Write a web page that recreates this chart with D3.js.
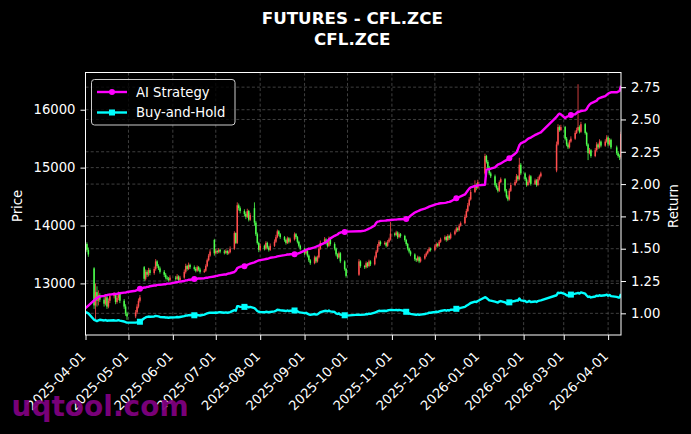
<!DOCTYPE html>
<html><head><meta charset="utf-8">
<script src="https://cdn.jsdelivr.net/npm/d3@7/dist/d3.min.js"></script>
<style>html,body{margin:0;padding:0;background:#000;}svg{display:block;}</style>
</head><body>
<svg id="chart" width="691" height="434"></svg>
<script>
// ---------- data ----------
const titleLines = ["FUTURES - CFL.ZCE", "CFL.ZCE"];
const startDate = "2025-04-01", endDate = "2026-04-10";
const holidays = ["2025-04-04","2025-05-01","2025-05-02","2025-05-05","2025-06-02",
  "2025-10-01","2025-10-02","2025-10-03","2025-10-06","2025-10-07","2025-10-08",
  "2026-01-01","2026-01-02","2026-02-16","2026-02-17","2026-02-18","2026-02-19","2026-02-20","2026-02-23","2026-04-06"];
const monthTicks = ["2025-04-01","2025-05-01","2025-06-01","2025-07-01","2025-08-01","2025-09-01","2025-10-01",
  "2025-11-01","2025-12-01","2026-01-01","2026-02-01","2026-03-01","2026-04-01"];
const priceTicks = [13000,14000,15000,16000];
const returnTicks = [1.00,1.25,1.50,1.75,2.00,2.25,2.50,2.75];
const seriesNames = ["AI Strategy","Buy-and-Hold"];

const opens = [13560,13680,13580,
13260,12620,12850,12700,12800,
12720,12650,12760,12600,12700,
12780,12800,12680,12750,12820,
12700,12600,12480,
12430,12500,12600,12700,
13280,13080,13200,13150,13230,
13180,13250,13380,13300,13260,
13200,13150,13100,13080,13060,
13100,13080,13120,13060,
13100,13200,13300,13250,13320,
13280,13250,13220,13280,13240,
13200,13220,13300,13400,13480,
13750,13520,13560,13540,13580,
13550,13530,13560,13520,13540,
13600,13870,13700,14350,14300,
14250,14200,14150,14250,14100,
14300,14050,13850,13700,
13580,13650,13600,13700,13620,13580,
13650,13720,13800,13900,
13850,13800,13750,13700,13780,
13720,13760,13850,13800,
13720,13650,13600,13520,
13560,13480,13400,13350,13450,
13380,13450,13600,13700,
13760,13700,13650,13780,
13680,13600,13500,13450,
13520,13380,13250,
13150,13380,
13300,13280,13350,13300,13380,
13330,13450,13550,13650,13720,
13680,13700,13650,13720,
13760,
13860,13840,13880,13800,13850,
13820,13750,13680,13600,13550,
13500,13420,13400,13450,13380,
13430,13480,13520,13560,13600,13580,13640,13680,13650,13720,
13760,13800,13750,13820,13780,
13850,13900,13950,13920,14000,
14040,14150,14250,14350,14450,
14580,14700,14650,
14900,15200,15100,15000,14900,
14850,14700,14650,14600,14750,
14800,14600,14500,14450,14600,
14700,14750,14850,14800,15050,
14900,14800,14700,14750,14850,14720,14780,
14700,14800,14850,
14950,15400,15700,15650,
15700,15500,15400,15350,15450,
15500,15600,15650,15700,15620,
15750,15600,15400,15250,15300,
15200,15300,15400,15350,15450,
15380,15450,15520,15400,15480,
15350,15250,15200,
15180];

const highs = [13720,13710,13620,
13280,13000,12950,12880,12830,
12780,12800,12790,12740,12830,
12850,12830,12790,12860,12840,
12730,12640,12510,
12540,12640,12740,12800,
13300,13240,13230,13270,13260,
13290,13420,13400,13330,13290,
13230,13180,13130,13110,13140,
13130,13160,13140,13130,
13240,13340,13320,13360,13340,
13310,13280,13310,13300,13270,
13250,13330,13430,13510,13590,
13770,13600,13580,13610,13600,
13580,13590,13580,13570,13640,
13900,13880,14400,14380,14330,
14280,14230,14290,14270,14220,
14400,14080,13880,13720,
13690,13670,13730,13720,13650,13690,
13760,13840,13930,13920,
13870,13820,13770,13810,13800,
13790,13880,13870,13820,
13740,13670,13620,13590,
13580,13500,13420,13480,13470,
13480,13630,13740,13800,
13780,13720,13810,13800,
13710,13620,13520,13550,
13540,13400,13270,
13420,13400,
13320,13380,13370,13410,13400,
13480,13580,13680,13750,13740,
13730,13720,13750,13790,
14060,
13880,13910,13900,13880,13870,
13840,13770,13700,13620,13570,
13520,13440,13480,13470,13460,
13510,13550,13590,13630,13620,13670,13710,13700,13750,13790,
13830,13820,13850,13840,13880,
13930,13980,13970,14030,14070,
14190,14290,14390,14490,14620,
14780,14730,14790,
15240,15220,15130,15030,14930,
14880,14730,14680,14780,14830,
14820,14630,14530,14640,14740,
14790,14890,14870,15170,15080,
14920,14830,14780,14880,14870,14810,14800,
14840,14880,14930,
15450,15750,15730,15740,
15720,15530,15430,15480,15540,
15640,15690,16440,15730,15790,
15770,15620,15420,15340,15320,
15340,15440,15420,15490,15470,
15490,15560,15540,15510,15500,
15380,15280,15230,
15620];

const lows = [13500,13540,13460,
12560,12380,12600,12620,12680,
12600,12620,12560,12570,12660,
12740,12640,12650,12710,12660,
12560,12440,12370,
12400,12470,12570,12670,
13040,13050,13110,13120,13140,
13150,13220,13270,13230,13170,
13110,13070,13050,13030,13040,
13050,13060,13030,13040,
13080,13170,13220,13230,13250,
13220,13190,13200,13210,13170,
13180,13200,13280,13380,13460,
13480,13500,13510,13520,13520,
13500,13510,13490,13500,13520,
13580,13680,13680,14260,14210,
14160,14110,14130,14070,14080,
14000,13820,13670,13540,
13560,13570,13580,13590,13550,13560,
13630,13700,13780,13820,
13770,13720,13670,13680,13690,
13700,13740,13770,13690,
13620,13570,13490,13500,
13450,13370,13320,13330,13350,
13360,13430,13580,13680,
13670,13620,13630,13650,
13570,13470,13420,13430,
13350,13220,13100,
13130,13270,
13250,13260,13270,13280,13300,
13310,13430,13530,13630,13650,
13660,13620,13630,13700,
13740,
13810,13820,13770,13780,13790,
13720,13650,13570,13520,13470,
13390,13370,13380,13350,13360,
13410,13460,13500,13540,13550,13560,13620,13620,13630,13700,
13740,13720,13730,13750,13760,
13830,13880,13890,13900,13980,
14020,14130,14230,14330,14430,
14560,14610,14630,
14880,15070,14970,14870,14820,
14670,14620,14570,14580,14730,
14570,14470,14420,14430,14580,
14680,14730,14770,14780,14870,
14770,14670,14680,14730,14690,14700,14670,
14680,14780,14830,
14920,15380,15620,15630,
15470,15370,15320,15330,15430,
15480,15580,15630,15590,15600,
15570,15370,15130,15230,15170,
15180,15280,15320,15330,15350,
15360,15430,15370,15380,15320,
15220,15170,15130,
15150];

const closes = [13680,13580,13500,
12620,12850,12700,12800,12720,
12650,12760,12600,12700,12780,
12800,12680,12750,12820,12700,
12600,12480,12430,
12500,12600,12700,12760,
13080,13200,13150,13230,13180,
13250,13380,13300,13260,13200,
13150,13100,13080,13060,13100,
13080,13120,13060,13100,
13200,13300,13250,13320,13280,
13250,13220,13280,13240,13200,
13220,13300,13400,13480,13550,
13520,13560,13540,13580,13550,
13530,13560,13520,13540,13600,
13870,13700,14350,14300,14250,
14200,14150,14250,14100,14180,
14050,13850,13700,13580,
13650,13600,13700,13620,13580,13650,
13720,13800,13900,13850,
13800,13750,13700,13780,13720,
13760,13850,13800,13720,
13650,13600,13520,13560,
13480,13400,13350,13450,13380,
13450,13600,13700,13760,
13700,13650,13780,13680,
13600,13500,13450,13520,
13380,13250,13130,
13380,13300,
13280,13350,13300,13380,13330,
13450,13550,13650,13720,13680,
13700,13650,13720,13760,
13860,
13840,13880,13800,13850,13820,
13750,13680,13600,13550,13500,
13420,13400,13450,13380,13430,
13480,13520,13560,13600,13580,13640,13680,13650,13720,13760,
13800,13750,13820,13780,13850,
13900,13950,13920,14000,14040,
14150,14250,14350,14450,14580,
14700,14650,14750,
15200,15100,15000,14900,14850,
14700,14650,14600,14750,14800,
14600,14500,14450,14600,14700,
14750,14850,14800,15050,14900,
14800,14700,14750,14850,14720,14780,14700,
14800,14850,14900,
15400,15700,15650,15700,
15500,15400,15350,15450,15500,
15600,15650,15700,15620,15750,
15600,15400,15250,15300,15200,
15300,15400,15350,15450,15380,
15450,15520,15400,15480,15350,
15250,15200,15180,
15580];

const aiStrategy = [1.04,1.05,1.06,
1.10,1.11,1.12,1.125,1.13,
1.135,1.14,1.14,1.145,1.145,
1.15,1.15,1.15,1.155,1.155,
1.16,1.16,1.165,
1.175,1.18,1.185,1.19,
1.20,1.20,1.205,1.205,1.21,
1.215,1.215,1.22,1.22,1.22,
1.225,1.225,1.23,1.23,1.23,
1.24,1.24,1.245,1.245,
1.25,1.255,1.255,1.26,1.26,
1.265,1.265,1.268,1.27,1.27,
1.272,1.275,1.275,1.278,1.28,
1.285,1.29,1.29,1.293,1.296,
1.30,1.30,1.305,1.308,1.31,
1.32,1.33,1.35,1.355,1.36,
1.365,1.37,1.375,1.38,1.385,
1.395,1.40,1.405,1.41,
1.412,1.418,1.42,1.422,1.425,1.43,
1.435,1.437,1.44,1.443,
1.445,1.45,1.452,1.455,1.455,
1.457,1.458,1.46,1.462,
1.465,1.47,1.485,1.49,
1.495,1.50,1.50,1.51,1.515,
1.52,1.525,1.53,1.545,
1.55,1.56,1.57,1.58,
1.60,1.605,1.61,1.62,
1.625,1.63,1.632,
1.635,1.635,
1.64,1.645,1.65,1.655,1.66,
1.68,1.70,1.71,1.712,1.715,
1.717,1.718,1.72,1.72,
1.722,
1.725,1.725,1.727,1.728,1.728,
1.73,1.73,1.735,1.745,1.755,
1.78,1.785,1.79,1.795,1.80,
1.81,1.815,1.82,1.825,1.83,1.84,1.845,1.847,1.85,1.852,
1.855,1.857,1.86,1.862,1.865,
1.885,1.89,1.895,1.90,1.905,
1.92,1.935,1.95,1.965,1.975,
1.985,1.987,1.99,
1.995,2.11,2.115,2.115,2.12,
2.13,2.14,2.15,2.155,2.16,
2.18,2.185,2.19,2.20,2.21,
2.235,2.245,2.27,2.30,2.315,
2.33,2.34,2.35,2.355,2.36,2.38,2.385,
2.39,2.395,2.40,
2.52,2.535,2.545,2.54,
2.51,2.52,2.525,2.53,2.535,
2.54,2.55,2.56,2.56,2.565,
2.57,2.58,2.60,2.615,2.625,
2.64,2.645,2.66,2.665,2.67,
2.68,2.69,2.70,2.705,2.71,
2.71,2.715,2.72,
2.76];

const buyHold = [1.01,1.005,1.00,
0.95,0.945,0.94,0.945,0.95,
0.945,0.948,0.943,0.945,0.945,
0.946,0.944,0.945,0.947,0.944,
0.937,0.932,0.928,
0.928,0.93,0.932,0.935,
0.962,0.968,0.972,0.975,0.974,
0.976,0.98,0.978,0.976,0.972,
0.97,0.968,0.968,0.966,0.968,
0.97,0.972,0.97,0.972,
0.978,0.983,0.982,0.986,0.985,
0.985,0.984,0.987,0.985,0.983,
0.99,0.995,1.0,1.003,1.005,
1.005,1.006,1.005,1.008,1.008,
1.005,1.007,1.005,1.006,1.01,
1.025,1.02,1.055,1.055,1.05,
1.05,1.048,1.052,1.046,1.05,
1.04,1.03,1.018,1.012,
1.01,1.008,1.012,1.01,1.008,1.01,
1.015,1.02,1.028,1.026,
1.024,1.02,1.017,1.022,1.018,
1.02,1.022,1.02,1.016,
1.01,1.007,1.002,1.004,
0.998,0.992,0.988,0.995,0.99,
0.992,1.0,1.01,1.018,
1.02,1.015,1.022,1.015,
1.01,1.0,0.995,1.0,
0.99,0.985,0.982,
0.99,0.988,
0.99,0.995,0.993,0.998,0.996,
1.005,1.01,1.015,1.02,1.018,
1.02,1.018,1.022,1.025,
1.026,
1.025,1.027,1.024,1.026,1.025,
1.018,1.012,1.006,1.0,0.996,
0.99,0.988,0.992,0.988,0.99,
0.995,0.998,1.0,1.005,1.005,1.01,1.012,1.01,1.015,1.018,
1.025,1.02,1.025,1.022,1.028,
1.03,1.035,1.033,1.038,1.042,
1.05,1.058,1.065,1.072,1.08,
1.09,1.087,1.095,
1.125,1.12,1.11,1.10,1.098,
1.09,1.087,1.083,1.092,1.095,
1.085,1.078,1.075,1.085,1.09,
1.095,1.1,1.098,1.115,1.1,
1.095,1.088,1.09,1.096,1.088,1.092,1.088,
1.095,1.098,1.1,
1.14,1.16,1.157,1.16,
1.148,1.14,1.137,1.143,1.145,
1.152,1.155,1.158,1.153,1.162,
1.152,1.138,1.127,1.13,1.123,
1.13,1.137,1.134,1.14,1.136,
1.14,1.145,1.136,1.142,1.133,
1.127,1.123,1.122,
1.15];

// ---------- build ----------
const parse = d3.utcParse("%Y-%m-%d");
const fmt = d3.utcFormat("%Y-%m-%d");
const hol = new Set(holidays);
const dates = d3.utcDay.range(parse(startDate), d3.utcDay.offset(parse(endDate), 1))
  .filter(d => d.getUTCDay() !== 0 && d.getUTCDay() !== 6 && !hol.has(fmt(d)));
const n = Math.min(dates.length, closes.length);
const rows = d3.range(n).map(i => ({d: dates[i], o: opens[i], h: highs[i], l: lows[i], c: closes[i], ai: aiStrategy[i], bh: buyHold[i], i}));

const W = 691, H = 434;
const L = 85.5, R = 621, T = 72.5, B = 335;
const FONT = "DejaVu Sans, Liberation Sans, sans-serif";
const svg = d3.select("#chart");
svg.append("rect").attr("width", W).attr("height", H).attr("fill", "#000");

const x = d3.scaleUtc().domain([parse(startDate), parse(endDate)]).range([L, R]);
const yP = d3.scaleLinear().domain([12109, 16643]).range([B, T]);
const yR = d3.scaleLinear().domain([0.8324, 2.8633]).range([B, T]);

svg.append("clipPath").attr("id", "clip").append("rect")
  .attr("x", L).attr("y", T).attr("width", R - L).attr("height", B - T);

// grid
const grid = svg.append("g").attr("clip-path", "url(#clip)")
  .attr("stroke", "#5a5a5a").attr("stroke-width", 0.7).attr("stroke-dasharray", "3,2.2");
grid.selectAll(".gx").data(monthTicks.map(parse)).join("line")
  .attr("x1", d => x(d)).attr("x2", d => x(d)).attr("y1", T).attr("y2", B);
grid.selectAll(".gp").data(priceTicks).join("line").attr("class", "gp")
  .attr("x1", L).attr("x2", R).attr("y1", d => yP(d)).attr("y2", d => yP(d));
grid.selectAll(".gr").data(returnTicks).join("line").attr("class", "gr")
  .attr("x1", L).attr("x2", R).attr("y1", d => yR(d)).attr("y2", d => yR(d));

// candles
const upC = "#ff4d4d", dnC = "#4dff4d";
const cg = svg.append("g").attr("clip-path", "url(#clip)");
const bw = 1.5;
cg.selectAll(".wick").data(rows).join("line")
  .attr("x1", d => x(d.d)).attr("x2", d => x(d.d))
  .attr("y1", d => yP(d.h)).attr("y2", d => yP(d.l))
  .attr("stroke", d => d.c >= d.o ? upC : dnC).attr("stroke-width", 0.8);
cg.selectAll(".body").data(rows).join("rect")
  .attr("x", d => x(d.d) - bw / 2).attr("width", bw)
  .attr("y", d => yP(Math.max(d.o, d.c)))
  .attr("height", d => Math.max(0.8, Math.abs(yP(d.o) - yP(d.c))))
  .attr("fill", d => d.c >= d.o ? upC : dnC);

// lines
const aiC = "#ff00ff", bhC = "#00ffff";
const lg = svg.append("g").attr("clip-path", "url(#clip)");
const lineBH = d3.line().x(d => x(d.d)).y(d => yR(d.bh));
const lineAI = d3.line().x(d => x(d.d)).y(d => yR(d.ai));
lg.append("path").datum(rows).attr("d", lineBH).attr("fill", "none")
  .attr("stroke", bhC).attr("stroke-width", 2.4).attr("stroke-linejoin", "round");
lg.append("path").datum(rows).attr("d", lineAI).attr("fill", "none")
  .attr("stroke", aiC).attr("stroke-width", 2.4).attr("stroke-linejoin", "round");
const marked = rows.filter(d => (d.i + 1) % 25 === 0);
lg.selectAll(".mb").data(marked).join("rect")
  .attr("x", d => x(d.d) - 3).attr("y", d => yR(d.bh) - 3).attr("width", 6).attr("height", 6).attr("fill", bhC);
lg.selectAll(".ma").data(marked).join("circle")
  .attr("cx", d => x(d.d)).attr("cy", d => yR(d.ai)).attr("r", 3).attr("fill", aiC);

// frame
svg.append("rect").attr("x", L).attr("y", T).attr("width", R - L).attr("height", B - T)
  .attr("fill", "none").attr("stroke", "#fff").attr("stroke-width", 1);

// axes
function styleAxis(g) {
  g.select(".domain").remove();
  g.selectAll("line").attr("stroke", "#fff").attr("stroke-width", 1);
  g.selectAll("text").attr("fill", "#fff").attr("font-family", FONT).attr("font-size", "13.2px");
}
svg.append("g").attr("transform", `translate(${L},0)`)
  .call(d3.axisLeft(yP).tickValues(priceTicks).tickFormat(d3.format("d")).tickSize(5).tickPadding(5))
  .call(styleAxis);
svg.append("g").attr("transform", `translate(${R},0)`)
  .call(d3.axisRight(yR).tickValues(returnTicks).tickFormat(d3.format(".2f")).tickSize(5).tickPadding(5))
  .call(styleAxis);
const xa = svg.append("g").attr("transform", `translate(0,${B})`)
  .call(d3.axisBottom(x).tickValues(monthTicks.map(parse)).tickFormat(fmt).tickSize(5))
  .call(styleAxis);
xa.selectAll("text").attr("x", 0).attr("y", 0).attr("dy", null)
  .attr("text-anchor", "end").attr("transform", "translate(0.5,22) rotate(-45)");

// axis labels
svg.append("text").attr("transform", "translate(22,206) rotate(-90)")
  .attr("text-anchor", "middle").attr("fill", "#fff").attr("font-family", FONT).attr("font-size", "13.2px").text("Price");
svg.append("text").attr("transform", "translate(678,206) rotate(-90)")
  .attr("text-anchor", "middle").attr("fill", "#fff").attr("font-family", FONT).attr("font-size", "13.2px").text("Return");

// title
svg.selectAll(".title").data(titleLines).join("text")
  .attr("x", 352.3).attr("y", (d, i) => 24.3 + i * 20.7)
  .attr("text-anchor", "middle").attr("fill", "#fff").attr("font-family", FONT)
  .attr("font-weight", "bold").attr("font-size", "16.7px").text(d => d);

// legend
const leg = svg.append("g");
leg.append("rect").attr("x", 91.5).attr("y", 79.5).attr("width", 143.5).attr("height", 45.5).attr("rx", 3)
  .attr("fill", "#000").attr("fill-opacity", 0.8).attr("stroke", "#cccccc").attr("stroke-width", 1);
const legItems = [{name: seriesNames[0], c: aiC, m: "circle"}, {name: seriesNames[1], c: bhC, m: "square"}];
legItems.forEach((it, i) => {
  const yy = 92 + i * 20.5;
  leg.append("line").attr("x1", 97).attr("x2", 127).attr("y1", yy).attr("y2", yy).attr("stroke", it.c).attr("stroke-width", 2.4);
  if (it.m === "circle") leg.append("circle").attr("cx", 112).attr("cy", yy).attr("r", 3).attr("fill", it.c);
  else leg.append("rect").attr("x", 109).attr("y", yy - 3).attr("width", 6).attr("height", 6).attr("fill", it.c);
  leg.append("text").attr("x", 136).attr("y", yy).attr("dy", "0.35em").attr("fill", "#fff")
    .attr("font-family", FONT).attr("font-size", "13.2px").text(it.name);
});

// watermark
svg.append("text").attr("x", 11.5).attr("y", 416).attr("fill", "#800080").attr("fill-opacity", 0.95)
  .attr("font-family", FONT).attr("font-weight", "bold").attr("font-size", "28px").text("uqtool.com");
</script>
</body></html>
